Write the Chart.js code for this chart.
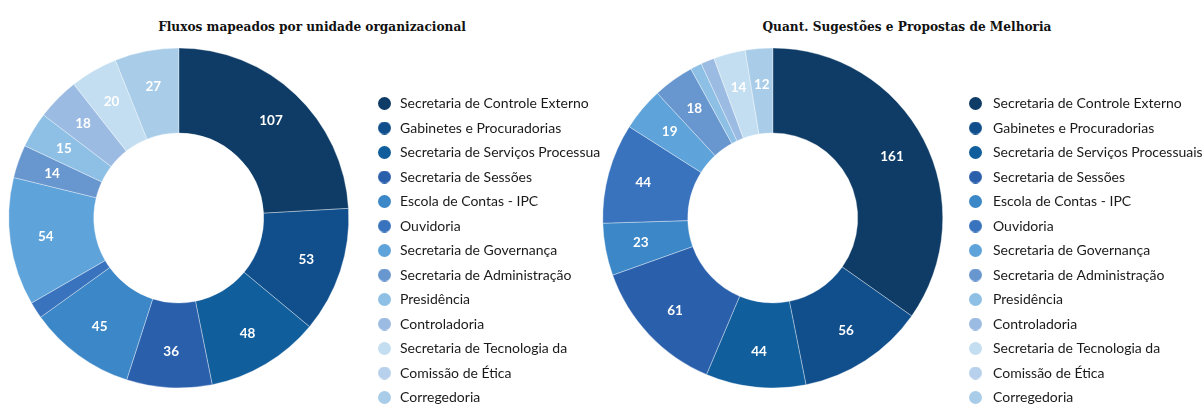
<!DOCTYPE html>
<html>
<head>
<meta charset="utf-8">
<script src="https://cdn.jsdelivr.net/npm/chart.js@4/dist/chart.umd.min.js"></script>
<style>
  html, body { margin: 0; padding: 0; background: #fff; width: 1203px; height: 404px; overflow: hidden; }
  .title { position: absolute; top: 17px; font-family: "DejaVu Serif", serif; font-stretch: condensed; font-weight: bold; font-size: 13.5px; color: #111; white-space: nowrap; transform: translateX(-50%); line-height: 18px; }
  canvas { position: absolute; top: 0; }
</style>
</head>
<body>
<div class="title" id="t1" style="left:312px">Fluxos mapeados por unidade organizacional</div>
<div class="title" id="t2" style="left:907px">Quant. Sugestões e Propostas de Melhoria</div>
<canvas id="c1" width="600" height="415" style="left:0px"></canvas>
<canvas id="c2" width="608" height="415" style="left:595px"></canvas>
<script>
const categories = [
  "Secretaria de Controle Externo",
  "Gabinetes e Procuradorias",
  "Secretaria de Serviços Processuais",
  "Secretaria de Sessões",
  "Escola de Contas - IPC",
  "Ouvidoria",
  "Secretaria de Governança",
  "Secretaria de Administração",
  "Presidência",
  "Controladoria",
  "Secretaria de Tecnologia da",
  "Comissão de Ética",
  "Corregedoria"
];
const fluxosValues = [107, 53, 48, 36, 45, 7, 54, 14, 15, 18, 20, 0, 27];
const sugestoesValues = [161, 56, 44, 61, 23, 44, 19, 18, 5, 6, 14, 0, 12];
const sliceColors = [
  "#0e3c66", "#104e8c", "#115e9d", "#2a5fac", "#3b87c7", "#3a73bd", "#5ea3da",
  "#6896ce", "#8ec0e6", "#9bbbe2", "#c4def1", "#b7d0eb", "#a9cde8"
];

function dotImages(dotX) {
  return sliceColors.map(c => {
    const cv = document.createElement('canvas');
    cv.width = 25; cv.height = 13;
    const g = cv.getContext('2d');
    g.fillStyle = c;
    g.beginPath();
    g.arc(dotX, 6.5, 6.5, 0, Math.PI * 2);
    g.fill();
    return cv;
  });
}

const labelPlugin = {
  id: 'sliceLabels',
  afterDatasetsDraw(chart) {
    const ctx = chart.ctx;
    const meta = chart.getDatasetMeta(0);
    const data = chart.data.datasets[0].data;
    ctx.save();
    ctx.font = 'bold 13.5px Lato, "Open Sans", sans-serif';
    ctx.fillStyle = '#ffffff';
    ctx.textAlign = 'center';
    ctx.textBaseline = 'middle';
    meta.data.forEach((arc, i) => {
      const v = data[i];
      if (v < 10) return;
      const p = arc.getProps(['x', 'y', 'startAngle', 'endAngle', 'innerRadius', 'outerRadius'], true);
      const a = (p.startAngle + p.endAngle) / 2;
      const r = p.innerRadius + (p.outerRadius - p.innerRadius) * 0.58;
      ctx.fillText(String(v), p.x + Math.cos(a) * r, p.y + Math.sin(a) * r);
    });
    ctx.restore();
  }
};

function makeChart(id, values, padR, dotX) {
  const imgs = dotImages(dotX);
  return new Chart(document.getElementById(id), {
    type: 'doughnut',
    data: {
      labels: categories,
      datasets: [{
        data: values,
        backgroundColor: sliceColors,
        borderColor: 'rgba(255,255,255,0.35)',
        borderWidth: 1,
        radius: 170,
        cutout: '50%'
      }]
    },
    options: {
      responsive: false,
      animation: false,
      radius: 170,
      cutout: '50%',
      layout: { padding: { left: 0, right: padR, top: 21, bottom: 0 } },
      plugins: {
        tooltip: { enabled: false },
        title: { display: false },
        legend: {
          position: 'right',
          align: 'end',
          maxWidth: 255,
          labels: {
            usePointStyle: true,
            pointStyleWidth: 25,
            padding: 10.5,
            color: '#1a1a1a',
            font: { family: 'Lato, "Open Sans", sans-serif', size: 14 },
            generateLabels(chart) {
              const base = Chart.overrides.doughnut.plugins.legend.labels.generateLabels(chart);
              return base.map((it, i) => Object.assign(it, { pointStyle: imgs[i], lineWidth: 0 }));
            }
          }
        }
      }
    },
    plugins: [labelPlugin]
  });
}

makeChart('c1', fluxosValues, -12.5, 16.5);
makeChart('c2', sugestoesValues, -2.5, 14.5);
</script>
</body>
</html>
